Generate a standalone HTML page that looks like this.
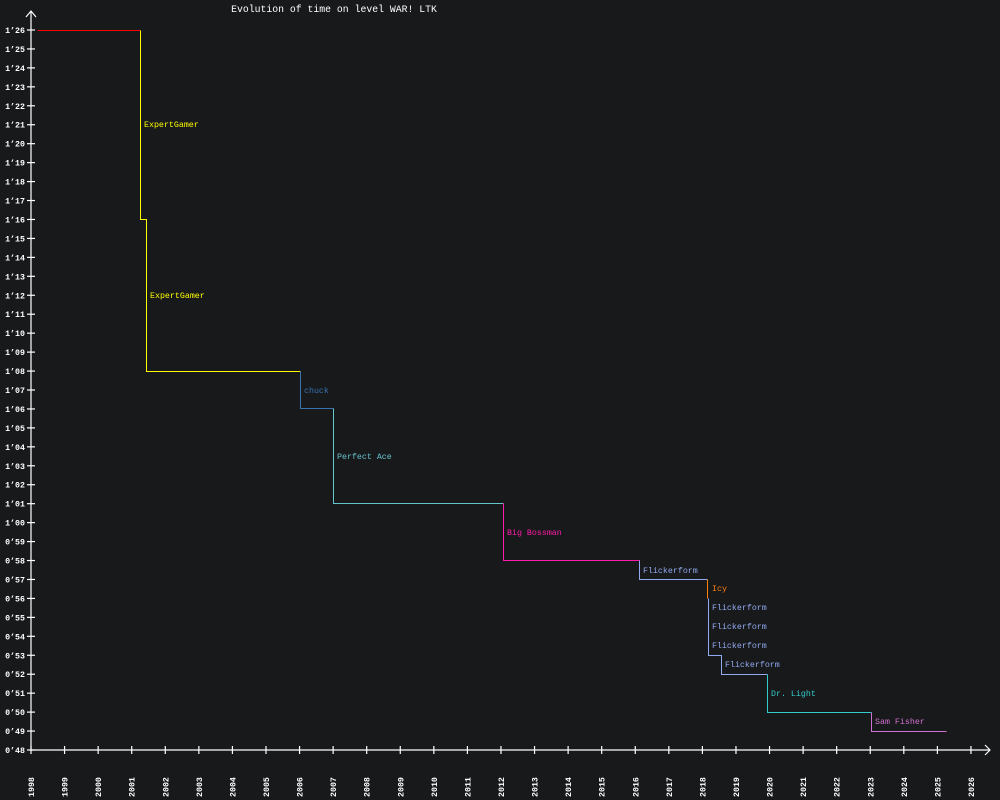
<!DOCTYPE html>
<html><head><meta charset="utf-8"><style>
html,body{margin:0;padding:0;background:#18191b;}
svg{display:block;}
text{font-family:"Liberation Mono","DejaVu Sans Mono",monospace;font-size:8.3px;}
</style></head><body>
<svg width="1000" height="800" viewBox="0 0 1000 800" xmlns="http://www.w3.org/2000/svg">
<rect width="1000" height="800" fill="#18191b"/>
<text x="334" y="12" fill="#fff" text-anchor="middle" style="font-size:9.8px">Evolution of time on level WAR! LTK</text>
<g stroke="#fff" stroke-width="1.2" fill="none">
<line x1="31" y1="11" x2="31" y2="750"/>
<polyline points="26,17 31,11 36,17"/>
<line x1="31" y1="750" x2="990" y2="750"/>
<polyline points="985,745 990,750 985,755"/>
</g>
<g id="yt" stroke="#fff" stroke-width="1.2"></g>
<g id="yl" fill="#fff" text-anchor="end" style="font-weight:bold"></g>
<g id="xt" stroke="#fff" stroke-width="1.2"></g>
<g id="xl" fill="#fff" style="font-weight:bold"></g>
<g fill="none" stroke-width="1" shape-rendering="crispEdges" transform="translate(0.5,0.5)">
<polyline stroke="#ff0000" points="37,30 140,30"/>
<polyline stroke="#ffff00" points="140,30 140,219 146,219 146,371 300,371"/>
<polyline stroke="#3a72b0" points="300,371 300,408 333,408"/>
<polyline stroke="#66c4cc" points="333,408 333,503 503,503"/>
<polyline stroke="#ff1aaa" points="503,503 503,560 639,560"/>
<polyline stroke="#92aaf0" points="639,560 639,579 707,579"/>
<polyline stroke="#ff7f10" points="707,579 707,598"/>
<polyline stroke="#92aaf0" points="708,598 708,655 721,655 721,674 767,674"/>
<polyline stroke="#33cccc" points="767,674 767,712 871,712"/>
<polyline stroke="#d070d0" points="871,712 871,731 946,731"/>
</g>
<text x="144" y="127" fill="#ffff00">ExpertGamer</text>
<text x="150" y="298" fill="#ffff00">ExpertGamer</text>
<text x="304" y="393" fill="#3a72b0">chuck</text>
<text x="337" y="459" fill="#66c4cc">Perfect Ace</text>
<text x="507" y="535" fill="#ff1aaa">Big Bossman</text>
<text x="643" y="573" fill="#92aaf0">Flickerform</text>
<text x="712" y="591" fill="#ff7f10">Icy</text>
<text x="712" y="610" fill="#92aaf0">Flickerform</text>
<text x="712" y="629" fill="#92aaf0">Flickerform</text>
<text x="712" y="648" fill="#92aaf0">Flickerform</text>
<text x="725" y="667" fill="#92aaf0">Flickerform</text>
<text x="771" y="696" fill="#33cccc">Dr. Light</text>
<text x="875" y="724" fill="#d070d0">Sam Fisher</text>
</svg>
<script>
var ns="http://www.w3.org/2000/svg";
function el(p,t,a,txt){var e=document.createElementNS(ns,t);for(var k in a)e.setAttribute(k,a[k]);if(txt)e.textContent=txt;document.getElementById(p).appendChild(e);}
for(var s=48;s<=86;s++){var y=30+(86-s)*(720/38);
 el("yt","line",{x1:27,x2:35,y1:y,y2:y});
 var m=Math.floor(s/60),sec=s%60;
 el("yl","text",{x:25,y:y+3},m+"\u2019"+(sec<10?"0":"")+sec);}
for(var yr=1998;yr<=2026;yr++){var x=31+(yr-1998)*33.57;
 el("xt","line",{x1:x,x2:x,y1:746,y2:754});
 el("xl","text",{x:0,y:0,transform:"translate("+(x+3)+",797) rotate(-90)"},""+yr);}
</script>
</body></html>
